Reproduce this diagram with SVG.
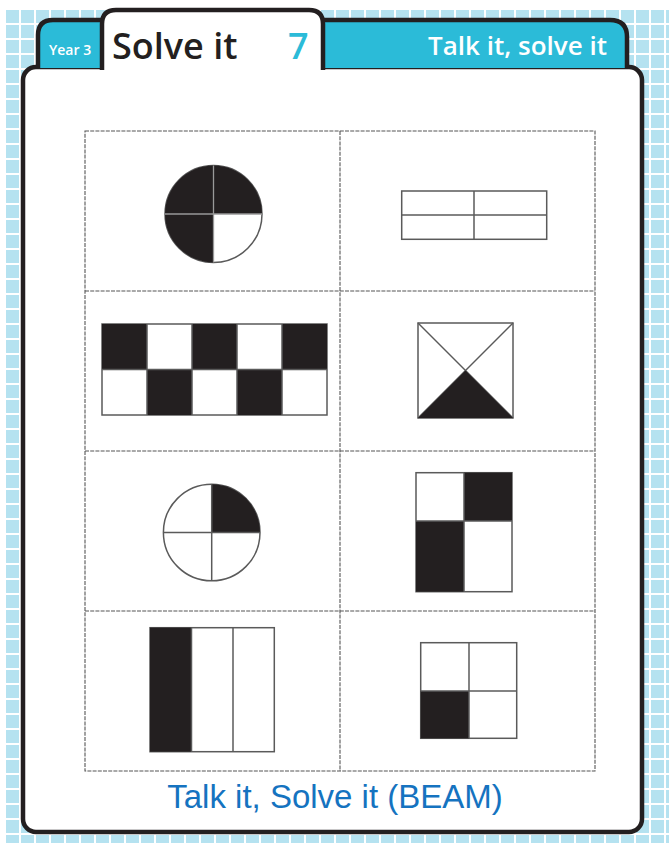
<svg xmlns="http://www.w3.org/2000/svg" width="669" height="843" viewBox="0 0 669 843">
<style>
.ol{fill:none;stroke:#231f20;stroke-width:4.5;stroke-linejoin:round}
.cy{fill:#2bbbd8}
.blk{fill:#231f20}
.sh{fill:#fff;stroke:#5a5a5a;stroke-width:1.5}
.ln{stroke:#5a5a5a;stroke-width:1.5;fill:none}
.dash{fill:none;stroke:#555;stroke-width:1.1;stroke-dasharray:4 1.2}
.hd{font-family:"Open Sans","Noto Sans",sans-serif;font-weight:600}
</style>
<defs>
<pattern id="grid" patternUnits="userSpaceOnUse" x="4" y="8" width="15" height="15">
<rect width="15" height="15" fill="#b5e2f0"/>
<rect width="15" height="2" fill="#ffffff"/>
<rect width="2" height="15" fill="#ffffff"/>
</pattern>
</defs>
<rect width="669" height="843" fill="#ffffff"/>
<rect x="4" y="8" width="665" height="835" fill="url(#grid)"/>

<g id="panel">
<rect x="23" y="67" width="619" height="765" rx="13" fill="#ffffff" stroke="#231f20" stroke-width="4.5"/>
</g>

<g id="tab-year">
<path d="M38,68 V35 Q38,20 53,20 H103 V68 Z" class="cy"/>
<path d="M38,68 V35 Q38,20 53,20 H103" class="ol"/>
<text x="49" y="55" class="hd" font-size="14" fill="#fff" font-weight="700">Year 3</text>
</g>

<g id="tab-talk">
<path d="M322,68 V20 H610 Q627,20 627,37 V68 Z" class="cy"/>
<path d="M322,20 H610 Q627,20 627,37 V68" class="ol"/>
<text x="607" y="55" class="hd" font-size="25" fill="#fff" font-weight="700" text-anchor="end" textLength="179" lengthAdjust="spacingAndGlyphs">Talk it, solve it</text>
</g>

<g id="tab-title">
<path d="M102,72 V24 Q102,10 116,10 H309 Q323,10 323,24 V72 Z" fill="#fff"/>
<path d="M102,70 V24 Q102,10 116,10 H309 Q323,10 323,24 V70" class="ol"/>
<text x="112" y="59" class="hd" font-size="36" fill="#231f20">Solve it</text>
<text x="288" y="59" class="hd" font-size="36" fill="#2bbbd8">7</text>
</g>

<g id="cards">
<rect x="85" y="131" width="510" height="640" class="dash"/>
<line x1="340" y1="131" x2="340" y2="771" class="dash"/>
<line x1="85" y1="291" x2="595" y2="291" class="dash"/>
<line x1="85" y1="451" x2="595" y2="451" class="dash"/>
<line x1="85" y1="611" x2="595" y2="611" class="dash"/>
</g>

<g id="circle-three-quarters">
<circle cx="213.5" cy="214" r="48.5" class="sh"/>
<path d="M213.5,214 L213.5,262.5 A48.5,48.5 0 1 1 262,214 Z" class="blk"/>
<line x1="213.5" y1="165.5" x2="213.5" y2="262.5" stroke="#999" stroke-width="1.3"/>
<line x1="165" y1="214" x2="262" y2="214" stroke="#999" stroke-width="1.3"/>
</g>

<g id="rect-quarters">
<rect x="401.7" y="191" width="145" height="48.3" class="sh"/>
<line x1="474" y1="191" x2="474" y2="239.3" class="ln"/>
<line x1="401.7" y1="215" x2="546.7" y2="215" class="ln"/>
</g>

<g id="checker">
<rect x="102" y="324" width="225" height="91" class="sh"/>
<rect x="102" y="324" width="45" height="45.5" class="blk"/>
<rect x="192" y="324" width="45" height="45.5" class="blk"/>
<rect x="282" y="324" width="45" height="45.5" class="blk"/>
<rect x="147" y="369.5" width="45" height="45.5" class="blk"/>
<rect x="237" y="369.5" width="45" height="45.5" class="blk"/>
<line x1="147" y1="324" x2="147" y2="415" class="ln"/>
<line x1="192" y1="324" x2="192" y2="415" class="ln"/>
<line x1="237" y1="324" x2="237" y2="415" class="ln"/>
<line x1="282" y1="324" x2="282" y2="415" class="ln"/>
<line x1="102" y1="369.5" x2="327" y2="369.5" class="ln"/>
</g>

<g id="square-triangle">
<rect x="418" y="323" width="95" height="95" class="sh"/>
<line x1="418" y1="323" x2="513" y2="418" class="ln"/>
<line x1="513" y1="323" x2="418" y2="418" class="ln"/>
<path d="M418,418 L465.5,370.5 L513,418 Z" class="blk"/>
</g>

<g id="circle-quarter">
<circle cx="211.7" cy="532.5" r="48.3" class="sh"/>
<path d="M211.7,532.5 L211.7,484.2 A48.3,48.3 0 0 1 260,532.5 Z" class="blk"/>
<line x1="211.7" y1="484.2" x2="211.7" y2="580.8" class="ln"/>
<line x1="163.4" y1="532.5" x2="260" y2="532.5" class="ln"/>
</g>

<g id="rect-unequal">
<rect x="416" y="472.7" width="96" height="119" class="sh"/>
<rect x="464" y="472.7" width="48" height="48.3" class="blk"/>
<rect x="416" y="521" width="48" height="70.7" class="blk"/>
<line x1="464" y1="472.7" x2="464" y2="591.7" class="ln"/>
<line x1="416" y1="521" x2="512" y2="521" class="ln"/>
</g>

<g id="rect-thirds">
<rect x="150" y="627.7" width="124.3" height="124" class="sh"/>
<rect x="150" y="627.7" width="41.5" height="124" class="blk"/>
<line x1="191.5" y1="627.7" x2="191.5" y2="751.7" class="ln"/>
<line x1="233" y1="627.7" x2="233" y2="751.7" class="ln"/>
</g>

<g id="square-quarters">
<rect x="420.7" y="642.7" width="96" height="95.6" class="sh"/>
<rect x="420.7" y="691" width="48.3" height="47.3" class="blk"/>
<line x1="469" y1="642.7" x2="469" y2="738.3" class="ln"/>
<line x1="420.7" y1="691" x2="516.7" y2="691" class="ln"/>
</g>

<text x="335" y="808" font-family="Liberation Sans, Arial, sans-serif" font-size="33" fill="#1573c0" text-anchor="middle">Talk it, Solve it (BEAM)</text>
</svg>
